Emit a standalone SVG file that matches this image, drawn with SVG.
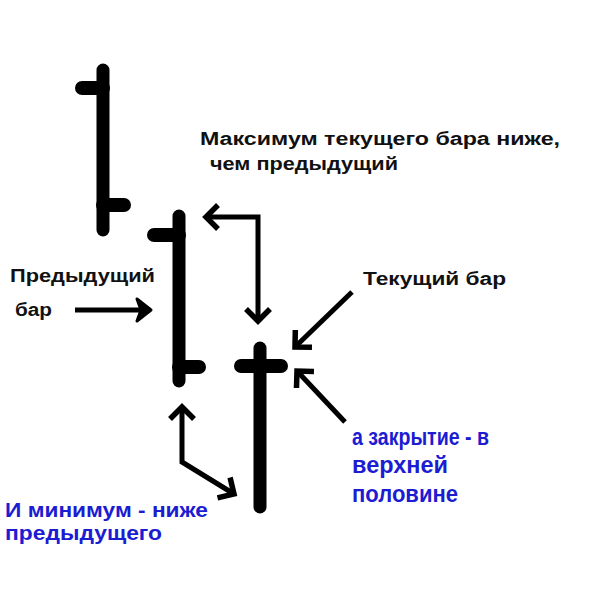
<svg xmlns="http://www.w3.org/2000/svg" width="600" height="600" viewBox="0 0 600 600">
<style>
.bar{stroke:#000;stroke-width:13;stroke-linecap:round;fill:none}
.tick{stroke:#000;stroke-width:14;stroke-linecap:round;fill:none}
.arr{stroke:#000;stroke-width:5;fill:none;stroke-linejoin:miter}
.t{font-family:"Liberation Sans",Arial,sans-serif;font-weight:bold;fill:#111}
.b{font-family:"Liberation Sans",Arial,sans-serif;font-weight:bold;fill:#1c1cd2}
</style>
<defs>
<marker id="chev" markerUnits="userSpaceOnUse" viewBox="-20 -20 40 40" markerWidth="40" markerHeight="40" refX="0" refY="0" orient="auto-start-reverse" overflow="visible">
<path d="M -12 -12 L 0 0 L -12 12" fill="none" stroke="#000" stroke-width="5.5"/>
</marker>
<marker id="tri" markerUnits="userSpaceOnUse" viewBox="-20 -20 40 40" markerWidth="40" markerHeight="40" refX="0" refY="0" orient="auto" overflow="visible">
<path d="M -13 -11 L 1 0 L -13 11 L -9 0 Z" fill="#000" stroke="#000" stroke-width="3" stroke-linejoin="round"/>
</marker>
</defs>
<rect width="600" height="600" fill="#fff"/>
<g id="bar1">
<line class="bar" x1="103" y1="70" x2="103" y2="230"/>
<line class="tick" x1="82" y1="88" x2="103" y2="88"/>
<line class="tick" x1="103" y1="205" x2="124" y2="205"/>
</g>
<g id="bar2">
<line class="bar" x1="179" y1="216" x2="179" y2="381"/>
<line class="tick" x1="154" y1="235" x2="179" y2="235"/>
<line class="tick" x1="179" y1="367" x2="199" y2="367"/>
</g>
<g id="bar3">
<line class="bar" x1="260" y1="348" x2="260" y2="507"/>
<line class="tick" x1="241" y1="366" x2="281" y2="366"/>
</g>
<g id="connectors">
<polyline class="arr" points="206,217 258,217 258,321" marker-start="url(#chev)" marker-end="url(#chev)"/>
<line class="arr" x1="75" y1="310" x2="150" y2="310" marker-end="url(#tri)"/>
<line class="arr" x1="352" y1="292" x2="295" y2="347" marker-end="url(#chev)"/>
<line class="arr" x1="345" y1="422" x2="297" y2="371" marker-end="url(#chev)"/>
<polyline class="arr" points="234,494 182,462 182,407" marker-start="url(#chev)" marker-end="url(#chev)"/>
</g>
<g id="label-max">
<text class="t" x="200" y="145" font-size="18" textLength="360" lengthAdjust="spacingAndGlyphs">Максимум текущего бара ниже,</text>
<text class="t" x="210" y="170" font-size="18" textLength="188" lengthAdjust="spacingAndGlyphs">чем предыдущий</text>
</g>
<g id="label-prev">
<text class="t" x="10" y="282" font-size="18" textLength="145" lengthAdjust="spacingAndGlyphs">Предыдущий</text>
<text class="t" x="15" y="316" font-size="18" textLength="37" lengthAdjust="spacingAndGlyphs">бар</text>
</g>
<g id="label-cur">
<text class="t" x="363" y="285" font-size="18" textLength="143" lengthAdjust="spacingAndGlyphs">Текущий бар</text>
</g>
<g id="label-close">
<text class="b" x="352" y="445" font-size="24" textLength="137" lengthAdjust="spacingAndGlyphs">а закрытие - в</text>
<text class="b" x="352" y="473" font-size="24" textLength="96" lengthAdjust="spacingAndGlyphs">верхней</text>
<text class="b" x="352" y="502" font-size="24" textLength="106" lengthAdjust="spacingAndGlyphs">половине</text>
</g>
<g id="label-min">
<text class="b" x="5" y="517" font-size="20" textLength="203" lengthAdjust="spacingAndGlyphs">И минимум - ниже</text>
<text class="b" x="5" y="540" font-size="20" textLength="157" lengthAdjust="spacingAndGlyphs">предыдущего</text>
</g>
</svg>
